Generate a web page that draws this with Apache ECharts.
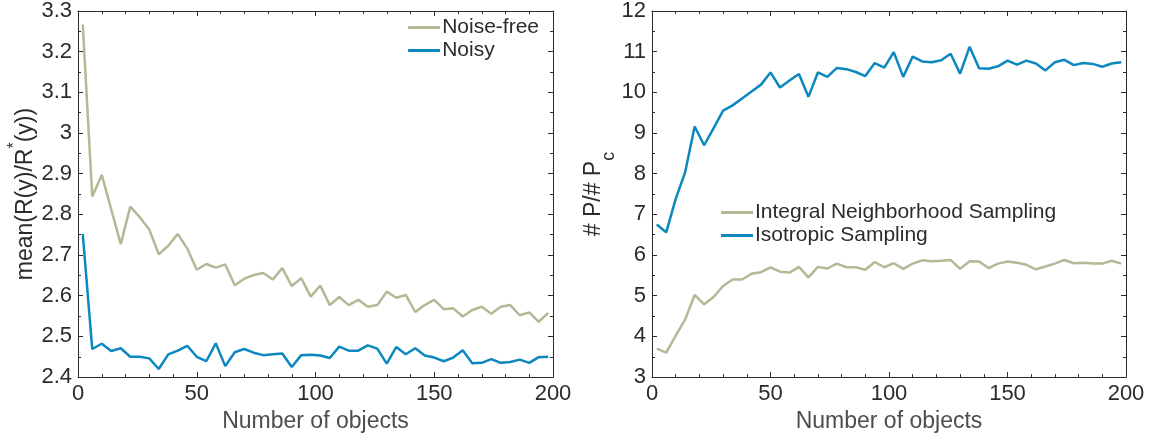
<!DOCTYPE html>
<html>
<head>
<meta charset="utf-8">
<script src="https://cdn.jsdelivr.net/npm/echarts@6/dist/echarts.min.js"></script>
<style>
  html, body { margin: 0; padding: 0; background: #fff; }
  #main { width: 1153px; height: 438px; }
</style>
</head>
<body>
<div id="main"></div>
<script>
// number of objects (x positions of the samples)
var objCounts = [2, 6, 10, 14, 18, 22, 26, 30, 34, 38, 42, 46, 50, 54, 58, 62, 66, 70, 74, 78, 82, 86, 90, 94, 98,
  102, 106, 110, 114, 118, 122, 126, 130, 134, 138, 142, 146, 150, 154, 158, 162, 166, 170, 174, 178, 182, 186, 190, 194, 198];

// left panel: mean(R(y)/R*(y))
var noiseFree = [3.267, 2.844, 2.897, 2.812, 2.727, 2.819, 2.793, 2.763, 2.702, 2.723, 2.752, 2.716, 2.664, 2.678, 2.669,
  2.677, 2.626, 2.642, 2.651, 2.656, 2.640, 2.668, 2.624, 2.643, 2.598,
  2.625, 2.577, 2.597, 2.577, 2.590, 2.573, 2.577, 2.610, 2.595, 2.602, 2.560, 2.577, 2.590, 2.567, 2.569,
  2.549, 2.565, 2.573, 2.556, 2.573, 2.577, 2.552, 2.559, 2.536, 2.558];
var noisy = [2.752, 2.469, 2.482, 2.464, 2.471, 2.450, 2.450, 2.446, 2.420, 2.456, 2.465, 2.477, 2.450, 2.439, 2.483,
  2.427, 2.461, 2.469, 2.460, 2.454, 2.456, 2.458, 2.425, 2.454, 2.455,
  2.453, 2.447, 2.475, 2.465, 2.465, 2.478, 2.470, 2.433, 2.474, 2.456, 2.471, 2.453, 2.448, 2.439, 2.448,
  2.466, 2.434, 2.435, 2.444, 2.435, 2.437, 2.443, 2.435, 2.449, 2.450];

// right panel: # P / # Pc
var integralSampling = [3.70, 3.60, 4.02, 4.42, 5.02, 4.79, 4.97, 5.24, 5.40, 5.40, 5.54, 5.58, 5.70, 5.59, 5.57,
  5.71, 5.45, 5.71, 5.67, 5.79, 5.70, 5.70, 5.64, 5.83, 5.70,
  5.80, 5.66, 5.79, 5.87, 5.85, 5.86, 5.88, 5.66, 5.85, 5.84, 5.68, 5.79, 5.84, 5.81, 5.76,
  5.65, 5.72, 5.79, 5.88, 5.80, 5.81, 5.79, 5.79, 5.86, 5.79];
var isotropicSampling = [6.75, 6.56, 7.38, 8.04, 9.16, 8.70, 9.12, 9.55, 9.68, 9.85, 10.02, 10.19, 10.49, 10.12, 10.29,
  10.45, 9.89, 10.49, 10.38, 10.60, 10.57, 10.50, 10.40, 10.72, 10.61,
  10.99, 10.38, 10.88, 10.76, 10.74, 10.79, 10.95, 10.46, 11.12, 10.59, 10.58, 10.64, 10.78, 10.68, 10.78,
  10.71, 10.54, 10.74, 10.80, 10.67, 10.72, 10.70, 10.63, 10.71, 10.74];

var xTicks = [0, 50, 100, 150, 200];
var leftYTicks = [2.4, 3.3, 0.1];   // min, max, step
var rightYTicks = [3, 12, 1];

var GREEN = "#b3b995";
var BLUE = "#0c87bf";
var FONT = "Liberation Sans";

function pairs(xs, ys) {
  var out = [];
  xs.forEach(function (x, i) {
    out.push([x, ys[i]]);
  });
  return out;
}

function xAxisFor(grid, top) {
  return {
    type: "value",
    gridIndex: grid,
    position: top ? "top" : "bottom",
    min: xTicks[0],
    max: xTicks[xTicks.length - 1],
    interval: xTicks[1] - xTicks[0],
    name: top ? "" : "Number of objects",
    nameLocation: "middle",
    nameGap: 26,
    nameTextStyle: { fontFamily: FONT, fontSize: 23, color: "#4d4d4d" },
    axisLine: { show: true, onZero: false, lineStyle: { color: "#2b2b2b", width: 1 } },
    axisTick: { show: true, inside: true, length: 5, lineStyle: { color: "#2b2b2b" } },
    minorTick: { show: true, splitNumber: 5, length: 3, lineStyle: { color: "#2b2b2b" } },
    axisLabel: { show: !top, margin: 6, fontFamily: FONT, fontSize: 22, color: "#2b2b2b" },
    splitLine: { show: false },
  };
}

function yAxisFor(grid, ticks, right, name, rich, gap) {
  return {
    type: "value",
    gridIndex: grid,
    position: right ? "right" : "left",
    min: ticks[0],
    max: ticks[1],
    interval: ticks[2],
    name: right ? "" : name,
    nameLocation: "middle",
    nameGap: gap,
    nameRotate: 90,
    nameTextStyle: { fontFamily: FONT, fontSize: 23, color: "#2b2b2b", rich: rich },
    axisLine: { show: true, onZero: false, lineStyle: { color: "#2b2b2b", width: 1 } },
    axisTick: { show: true, inside: true, length: 5, lineStyle: { color: "#2b2b2b" } },
    minorTick: { show: true, splitNumber: 2, length: 3, lineStyle: { color: "#2b2b2b" } },
    axisLabel: { show: !right, margin: 6, fontFamily: FONT, fontSize: 22, color: "#2b2b2b" },
    splitLine: { show: false },
  };
}

var leftRich = {
  n: { fontFamily: FONT, fontSize: 23, color: "#2b2b2b" },
  s: { fontFamily: FONT, fontSize: 16, color: "#2b2b2b", verticalAlign: "top", padding: [0, 0, 22, 0] },
};
var rightRich = {
  n: { fontFamily: FONT, fontSize: 23, color: "#2b2b2b" },
  s: { fontFamily: FONT, fontSize: 18, color: "#2b2b2b", verticalAlign: "bottom", padding: [30, 0, 0, 0] },
};

var chart = echarts.init(document.getElementById("main"));
var option = {
  animation: false,
  grid: [
    { left: 78, top: 8, width: 475, height: 371 },
    { left: 652, top: 9, width: 474, height: 371 },
  ],
  xAxis: [xAxisFor(0, false), xAxisFor(0, true), xAxisFor(1, false), xAxisFor(1, true)],
  yAxis: [
    yAxisFor(0, leftYTicks, false, "{n|mean(R(y)/R}{s|*}{n|(y))}", leftRich, 31),
    yAxisFor(0, leftYTicks, true, "", null, 0),
    yAxisFor(1, rightYTicks, false, "{n|# P/# P}{s|c}", rightRich, 32),
    yAxisFor(1, rightYTicks, true, "", null, 0),
  ],
  legend: [
    {
      data: ["Noise-free", "Noisy"],
      orient: "vertical",
      right: 614,
      top: 17,
      padding: 0,
      itemGap: 2,
      itemWidth: 32,
      itemHeight: 3,
      icon: "rect",
      textStyle: { fontFamily: FONT, fontSize: 21, color: "#2b2b2b", padding: [0, 0, 0, -3] },
    },
    {
      data: ["Integral Neighborhood Sampling", "Isotropic Sampling"],
      orient: "vertical",
      left: 721,
      top: 202,
      padding: 0,
      itemGap: 2,
      itemWidth: 32,
      itemHeight: 3,
      icon: "rect",
      textStyle: { fontFamily: FONT, fontSize: 21, color: "#2b2b2b", padding: [0, 0, 0, -3] },
    },
  ],
  series: [
    {
      name: "Noise-free",
      type: "line",
      xAxisIndex: 0,
      yAxisIndex: 0,
      data: pairs(objCounts, noiseFree),
      showSymbol: false,
      lineStyle: { color: GREEN, width: 2.5 },
      itemStyle: { color: GREEN },
    },
    {
      name: "Noisy",
      type: "line",
      xAxisIndex: 0,
      yAxisIndex: 0,
      data: pairs(objCounts, noisy),
      showSymbol: false,
      lineStyle: { color: BLUE, width: 2.5 },
      itemStyle: { color: BLUE },
    },
    {
      name: "Integral Neighborhood Sampling",
      type: "line",
      xAxisIndex: 2,
      yAxisIndex: 2,
      data: pairs(objCounts, integralSampling),
      showSymbol: false,
      lineStyle: { color: GREEN, width: 2.5 },
      itemStyle: { color: GREEN },
    },
    {
      name: "Isotropic Sampling",
      type: "line",
      xAxisIndex: 2,
      yAxisIndex: 2,
      data: pairs(objCounts, isotropicSampling),
      showSymbol: false,
      lineStyle: { color: BLUE, width: 2.5 },
      itemStyle: { color: BLUE },
    },
  ],
};
chart.setOption(option);
</script>
</body>
</html>
